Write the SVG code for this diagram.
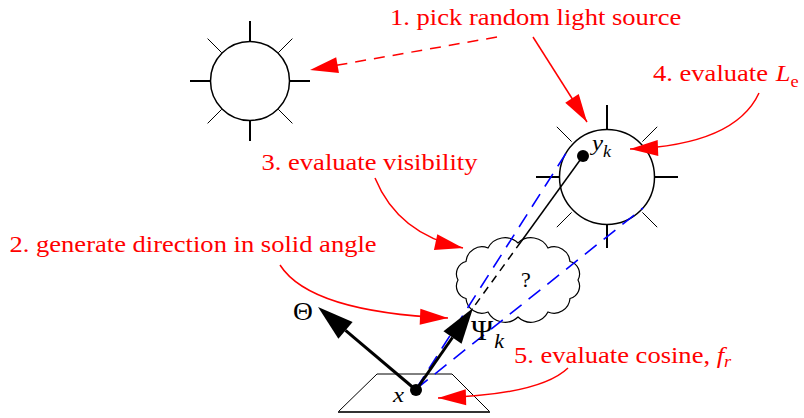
<svg xmlns="http://www.w3.org/2000/svg" width="804" height="418" viewBox="0 0 804 418">
<style>
.red{font-family:"Liberation Serif","Times New Roman",serif;font-size:23px;fill:#ff0000}
.blk{font-family:"Liberation Serif","Times New Roman",serif;fill:#000}
.it{font-style:italic}
.thick{stroke:#000;stroke-width:2;fill:none}
.thin{stroke:#000;stroke-width:1;fill:none}
.rline{stroke:#ff0000;stroke-width:1.5;fill:none}
.blue{stroke:#0000ff;stroke-width:1.6;stroke-dasharray:15 9;fill:none}
</style>
<defs>
<marker id="rh" markerUnits="userSpaceOnUse" markerWidth="30" markerHeight="18" refX="28" refY="8" orient="auto" overflow="visible">
<path d="M0,0 L28,8 L0,16 z" fill="#ff0000"/>
</marker>
<marker id="bh" markerUnits="userSpaceOnUse" markerWidth="38" markerHeight="24" refX="0" refY="11" orient="auto" overflow="visible">
<path d="M0,0 L36,11 L0,22 z" fill="#000"/>
</marker>
</defs>
<rect width="804" height="418" fill="#fff"/>

<g id="sun-left">
<circle cx="250" cy="81" r="39.5" fill="#fff" stroke="#000" stroke-width="1.5"/>
<path class="thick" d="M250,41 V21 M250,121 V141 M210,81 H190 M290,81 H310"/>
<path class="thin" d="M221.7,52.7 L207.6,38.6 M278.3,52.7 L292.4,38.6 M221.7,109.3 L207.6,123.4 M278.3,109.3 L292.4,123.4"/>
</g>

<g id="sun-right">
<circle cx="607" cy="177" r="47.5" fill="#fff" stroke="#000" stroke-width="1.5"/>
<path class="thick" d="M607,129.5 V105 M607,224.5 V248 M559.5,177 H536 M654.5,177 H678"/>
<path class="thin" d="M571.6,141.6 L556.8,126.8 M642.4,141.6 L657.2,126.8 M571.6,212.4 L556.8,227.2 M642.4,212.4 L657.2,227.2"/>
</g>

<g id="plane">
<path d="M377,374 H452 L490,412 H338 Z" fill="#fff" stroke="#000" stroke-width="1"/>
<path d="M338,412 H490" stroke="#333" stroke-width="2"/>
</g>

<g id="cloud">
<path d="M578,280 A12.8,12.8 0 0 1 570,298.5 A16,16 0 0 1 548,312 A19,19 0 0 1 518,317 A19,19 0 0 1 488,312 A16,16 0 0 1 466,298.5 A12.8,12.8 0 0 1 458,280 A12.8,12.8 0 0 1 466,261.5 A16,16 0 0 1 488,248 A19,19 0 0 1 518,243 A19,19 0 0 1 548,248 A16,16 0 0 1 570,261.5 A12.8,12.8 0 0 1 578,280 Z" fill="#fff" stroke="#000" stroke-width="1.2"/>
<text class="blk" x="526" y="287" font-size="22" text-anchor="middle">?</text>
</g>

<g id="connectors">
<path class="blue" d="M416,389 L570,147"/>
<path class="blue" d="M416,389 L643,208"/>
<path d="M583,156 L521,241.7" stroke="#000" stroke-width="1.5" fill="none"/>
<path d="M521,241.7 L473,308" stroke="#000" stroke-width="1.5" stroke-dasharray="8 6" fill="none"/>
<path d="M416,390 L345.5,330.3" stroke="#000" stroke-width="3" marker-end="url(#bh)"/>
<path d="M416,390 L452.5,337.5" stroke="#000" stroke-width="3" marker-end="url(#bh)"/>
<path class="rline" d="M497,37 L310,70" stroke-dasharray="11 8" marker-end="url(#rh)"/>
<path class="rline" d="M533,37 L587,122" marker-end="url(#rh)"/>
<path class="rline" d="M375,178 Q398,234 463,248" marker-end="url(#rh)"/>
<path class="rline" d="M280,265 Q310,312 448,318" marker-end="url(#rh)"/>
<path class="rline" d="M759,93 Q735,145 630,149" marker-end="url(#rh)"/>
<path class="rline" d="M568,368 Q540,395 438,398" marker-end="url(#rh)"/>
</g>

<g id="point-x">
<circle cx="416" cy="390" r="6" fill="#000"/>
<text class="blk it" font-size="22" transform="translate(393,402) scale(1.13,1)">x</text>
</g>

<g id="point-yk">
<circle cx="583" cy="156" r="6" fill="#000"/>
<text class="blk it" font-size="22" transform="translate(592,150) scale(1.13,1)">y<tspan font-size="16" dy="7">k</tspan></text>
</g>

<g id="label-theta">
<text class="blk" font-size="25" text-anchor="middle" transform="translate(303,320) scale(1.1,1)">Θ</text>
</g>
<g id="label-psi">
<text class="blk" font-size="30" transform="translate(471,340)">Ψ<tspan class="it" font-size="22" dy="8" dx="1">k</tspan></text>
</g>

<g id="labels">
<text class="red" transform="translate(390,25) scale(1.155,1)">1. pick random light source</text>
<text class="red" transform="translate(9.5,252) scale(1.155,1)">2. generate direction in solid angle</text>
<text class="red" transform="translate(261.5,170) scale(1.155,1)">3. evaluate visibility</text>
<text class="red" transform="translate(653,81) scale(1.155,1)">4. evaluate <tspan class="it" dx="1">L</tspan><tspan font-size="16" dy="6">e</tspan></text>
<text class="red" transform="translate(514,363) scale(1.155,1)">5. evaluate cosine, <tspan class="it">f</tspan><tspan class="it" font-size="16" dy="4">r</tspan></text>
</g>
</svg>
